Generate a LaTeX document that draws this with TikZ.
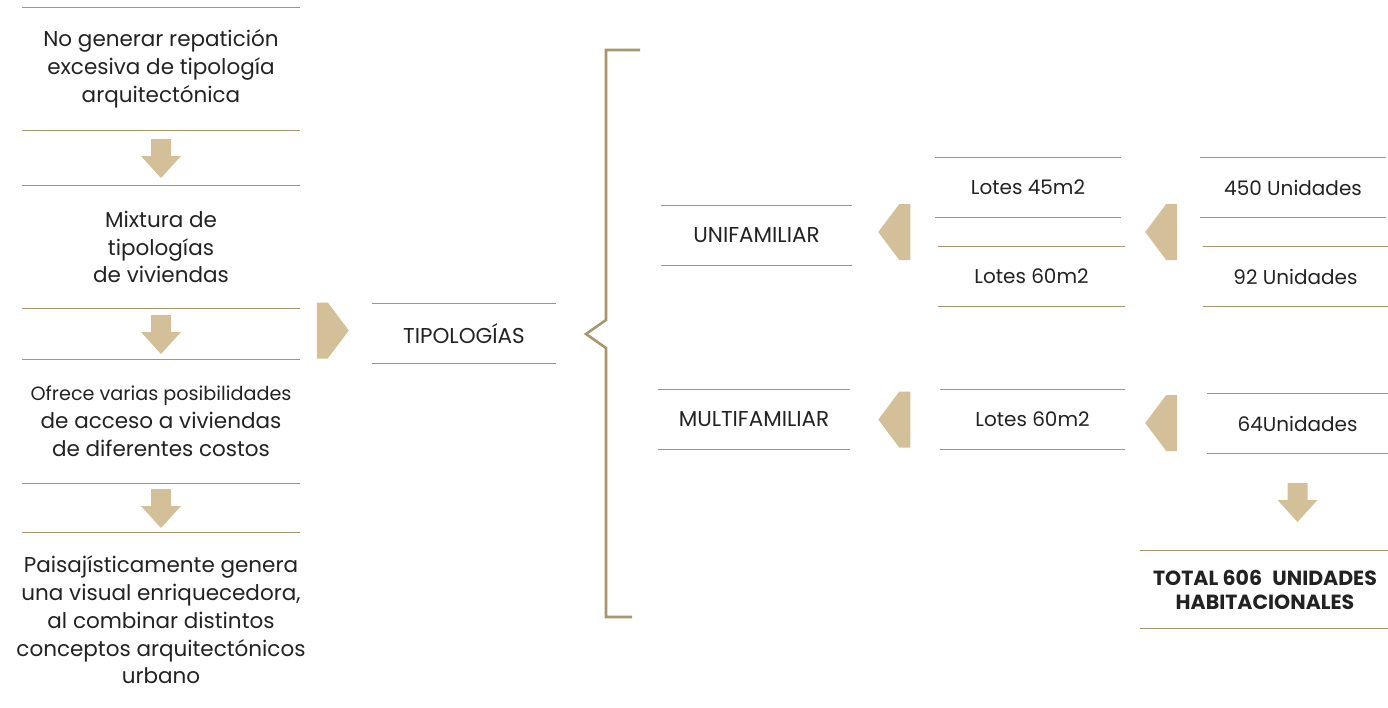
\documentclass[tikz,border=0pt]{standalone}
\usepackage{fontspec}
\setmainfont{Poppins}
\usetikzlibrary{positioning,calc}
\definecolor{gold}{RGB}{168,150,110}
\definecolor{sand}{RGB}{212,192,152}
\definecolor{ink}{RGB}{34,34,34}

\tikzset{
  rule/.style={draw=gold, line width=1.3pt},
  brace/.style={draw=gold, line width=2.6pt},
  txt/.style={inner sep=0pt, align=center, text=ink, font=\fontsize{21.5}{27.8}\selectfont},
  lbl/.style={txt, font=\fontsize{20}{24}\selectfont, minimum height=59pt},
  caps/.style={lbl, font=\fontsize{21.5}{24}\selectfont},
  darrow/.pic={\fill[sand] (-10,-19) -- (10,-19) -- (10,-2) -- (20,-2) -- (0,20) -- (-20,-2) -- (-10,-2) -- cycle;},
  rarrow/.pic={\fill[sand] (-16,-28) -- (-5,-28) -- (16,0) -- (-5,28) -- (-16,28) -- cycle;},
  larrow/.pic={\fill[sand] (16,-28) -- (5,-28) -- (-16,0) -- (5,28) -- (16,28) -- cycle;},
}

\begin{document}
\begin{tikzpicture}[x=1pt,y=-1pt]
\useasboundingbox (0,0) rectangle (1388,707);
% left column
\node[txt, minimum width=278pt, minimum height=122pt] (nogen) at (161,69) {No generar repatición\\excesiva de tipología\\arquitectónica};
\node[txt, minimum width=278pt, minimum height=122pt] (mixtura) at (161,247) {Mixtura de\\tipologías\\de viviendas};
\node[txt, minimum width=278pt, minimum height=123pt] (ofrece) at (161,421.5) {{\fontsize{19.2}{27.8}\selectfont Ofrece varias posibilidades}\\de acceso a viviendas\\de diferentes costos};
\node[txt, minimum height=174pt] (paisaje) at (161,620) {Paisajísticamente genera\\una visual enriquecedora,\\al combinar distintos\\conceptos arquitectónicos\\urbano};
% centre
\node[caps, minimum width=184pt] (tipo) at (464,333.5) {TIPOLOGÍAS};
\node[caps, minimum width=191pt] (unif) at (756.5,235.5) {UNIFAMILIAR};
\node[caps, minimum width=192pt] (multi) at (754,419.5) {MULTIFAMILIAR};
% lots
\node[lbl, minimum width=186pt] (lotesA) at (1028,187.5) {Lotes 45m2};
\node[lbl, minimum width=187pt] (lotesB) at (1031.5,276.5) {Lotes 60m2};
\node[lbl, minimum width=185pt] (lotesC) at (1032.5,419.5) {Lotes 60m2};
% units
\node[lbl, minimum width=186pt] (unidA) at (1293,187.5) {450 Unidades};
\node[lbl, minimum width=185pt] (unidB) at (1295.5,276.5) {92 Unidades};
\node[lbl, minimum width=181pt] (unidC) at (1297.5,423.5) {64Unidades};
\node[lbl, minimum width=249pt, minimum height=77pt, font=\fontsize{20.5}{24}\selectfont\bfseries] (total) at (1265,589.5) {TOTAL 606\enspace UNIDADES\\HABITACIONALES};

\foreach \n in {nogen,mixtura,ofrece,tipo,unif,multi,lotesA,lotesB,lotesC,unidA,unidB,unidC,total}
  \draw[rule] (\n.north west) -- (\n.north east) (\n.south west) -- (\n.south east);
\draw[rule] (ofrece.south west |- paisaje.north) -- (ofrece.south east |- paisaje.north);

% arrows
\pic at ($(nogen.south)!.5!(mixtura.north)$) {darrow};
\pic at ($(mixtura.south)!.5!(ofrece.north)$) {darrow};
\pic at ($(ofrece.south)!.5!(paisaje.north)$) {darrow};
\pic at ([xshift=-39pt,yshift=3pt]tipo.west) {rarrow};
\pic at ([xshift=-42pt]$(lotesA.west)!.5!(lotesB.west)$) {larrow};
\pic at ([xshift=38pt]$(lotesA.east)!.5!(lotesB.east)$) {larrow};
\pic at ([xshift=-45.5pt]lotesC.west) {larrow};
\pic at ([xshift=36pt,yshift=-3.5pt]lotesC.east) {larrow};
\pic at ($(unidC.south)!.5!(unidC.south |- total.north)$) {darrow};

% brace
\draw[brace] (640,50) -- (606,50) -- (606,320) -- (586,334) -- (606,348) -- (606,617) -- (632,617);
\end{tikzpicture}
\end{document}
